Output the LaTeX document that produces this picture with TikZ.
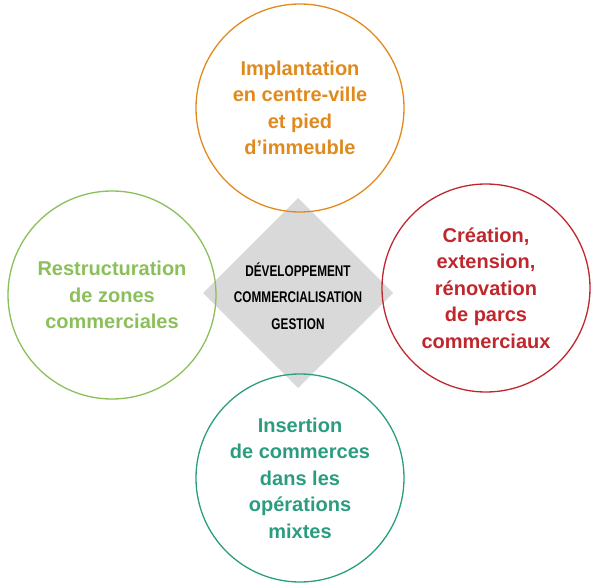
\documentclass[tikz,border=0pt]{standalone}
\usepackage{fontspec}
\setmainfont{Liberation Sans}
\begin{document}
\begin{tikzpicture}[x=1pt,y=-1pt,
  circ/.style={draw=#1,line width=1.3pt,circle,minimum size=208pt,text=#1,align=center,font=\bfseries\fontsize{20}{26.5}\selectfont}]
\useasboundingbox (0,0) rectangle (600,588);
\definecolor{corange}{HTML}{E08A1E}
\definecolor{cgreen}{HTML}{8BBF5A}
\definecolor{cred}{HTML}{C0272D}
\definecolor{cteal}{HTML}{2A9D80}
\fill[gray!30] (298,198) -- (393,293) -- (298,388) -- (203,293) -- cycle;
\node[circ=corange] (top) at (300,108) {Implantation\\en centre-ville\\et pied\\d’immeuble};
\node[circ=cgreen] (left) at (112,295) {Restructuration\\de zones\\commerciales};
\node[circ=cred] (right) at (486,288) {Création,\\extension,\\rénovation\\de parcs\\commerciaux};
\node[circ=cteal] (bottom) at (300,478) {Insertion\\de commerces\\dans les\\opérations\\mixtes};
\node[align=center,font=\bfseries\fontsize{15.5}{26.5}\selectfont,xscale=0.76] (c) at (298,296) {DÉVELOPPEMENT\\COMMERCIALISATION\\GESTION};
\end{tikzpicture}
\end{document}
